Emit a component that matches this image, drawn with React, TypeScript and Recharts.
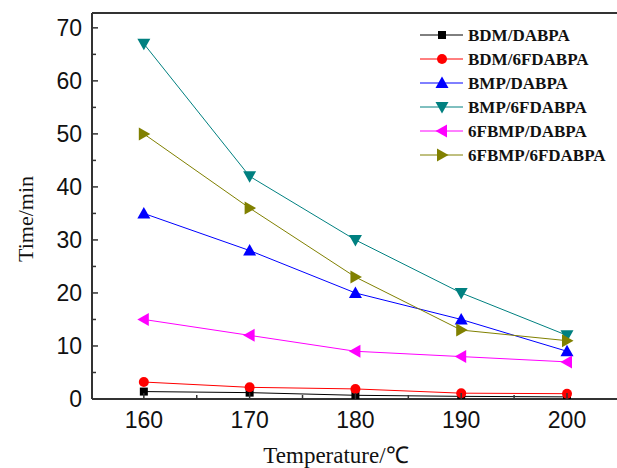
import { LineChart, Line, XAxis, YAxis, ReferenceLine, Legend } from 'recharts'

// temperature (°C) and gel time (min)
const temps = [160, 170, 180, 190, 200]
const bdmDabpa = [1.4, 1.2, 0.7, 0.5, 0.4]
const bdm6fdabpa = [3.2, 2.2, 1.9, 1.1, 1.0]
const bmpDabpa = [35, 28, 20, 15, 9]
const bmp6fdabpa = [67, 42, 30, 20, 12]
const fbmpDabpa = [15, 12, 9, 8, 7]
const fbmp6fdabpa = [50, 36, 23, 13, 11]

const xTicks = [160, 165, 170, 175, 180, 185, 190, 195, 200]
const yTicks = [0, 5, 10, 15, 20, 25, 30, 35, 40, 45, 50, 55, 60, 65, 70]

const X_MIN = 155.1
const X_MAX = 206.9
const Y_MAX = 72.8
const AXIS_X = 92
const AXIS_Y = 399
const AXIS_COLOR = '#333'
const NUM_FONT = '"Liberation Sans", Arial, sans-serif'
const SERIF = '"Liberation Serif", "Times New Roman", serif'

type Shape = 'square' | 'circle' | 'up' | 'down' | 'left' | 'right'

const series: { key: string; name: string; color: string; shape: Shape; values: number[] }[] = [
  { key: 'bdmDabpa', name: 'BDM/DABPA', color: '#000000', shape: 'square', values: bdmDabpa },
  { key: 'bdm6fdabpa', name: 'BDM/6FDABPA', color: '#ff0000', shape: 'circle', values: bdm6fdabpa },
  { key: 'bmpDabpa', name: 'BMP/DABPA', color: '#0000ff', shape: 'up', values: bmpDabpa },
  { key: 'bmp6fdabpa', name: 'BMP/6FDABPA', color: '#008080', shape: 'down', values: bmp6fdabpa },
  { key: 'fbmpDabpa', name: '6FBMP/DABPA', color: '#ff00ff', shape: 'left', values: fbmpDabpa },
  { key: 'fbmp6fdabpa', name: '6FBMP/6FDABPA', color: '#808000', shape: 'right', values: fbmp6fdabpa },
]

const data = temps.map((t, i) => {
  const row: Record<string, number> = { t }
  series.forEach((s) => { row[s.key] = s.values[i] })
  return row
})

function Marker({ shape, cx, cy, color }: { shape: Shape; cx: number; cy: number; color: string }) {
  if (cx == null || cy == null) return null
  switch (shape) {
    case 'square':
      return <rect x={cx - 4} y={cy - 4} width={8} height={8} fill={color} />
    case 'circle':
      return <circle cx={cx} cy={cy} r={5} fill={color} />
    case 'up':
      return <polygon points={`${cx},${cy - 6.5} ${cx - 6.5},${cy + 5} ${cx + 6.5},${cy + 5}`} fill={color} />
    case 'down':
      return <polygon points={`${cx},${cy + 6.5} ${cx - 6.5},${cy - 5} ${cx + 6.5},${cy - 5}`} fill={color} />
    case 'left':
      return <polygon points={`${cx - 6.5},${cy} ${cx + 5},${cy - 6.5} ${cx + 5},${cy + 6.5}`} fill={color} />
    default:
      return <polygon points={`${cx + 6.5},${cy} ${cx - 5},${cy - 6.5} ${cx - 5},${cy + 6.5}`} fill={color} />
  }
}

function XTick(props: any) {
  const { x, payload } = props
  const major = payload.value % 10 === 0
  return (
    <g>
      <line x1={x} x2={x} y1={AXIS_Y} y2={AXIS_Y - (major ? 6 : 4)} stroke={AXIS_COLOR} strokeWidth={1.5} />
      {major && (
        <text x={x} y={428} textAnchor="middle" fontSize={23} fontFamily={NUM_FONT} fill="#111">
          {payload.value}
        </text>
      )}
    </g>
  )
}

function YTick(props: any) {
  const { y, payload } = props
  const major = payload.value % 10 === 0
  return (
    <g>
      <line x1={AXIS_X} x2={AXIS_X + (major ? 6 : 4)} y1={y} y2={y} stroke={AXIS_COLOR} strokeWidth={1.5} />
      {major && (
        <text x={82} y={y} dy="0.36em" textAnchor="end" fontSize={23} fontFamily={NUM_FONT} fill="#111">
          {payload.value}
        </text>
      )}
    </g>
  )
}

// legend in the original series order, not the sorted payload order
function LegendBox() {
  return (
    <svg width={200} height={150}>
      {series.map((s, i) => {
        const cy = 12 + 24 * i
        return (
          <g key={s.key}>
            <line x1={5} x2={48} y1={cy} y2={cy} stroke={s.color} strokeWidth={1} />
            <Marker shape={s.shape} cx={27} cy={cy} color={s.color} />
            <text x={53} y={cy + 6} fontSize={17} fontWeight="bold" fontFamily={SERIF} fill="#111">
              {s.name}
            </text>
          </g>
        )
      })}
    </svg>
  )
}

export default function App() {
  return (
    <div style={{ position: 'absolute', left: 0, top: 0, width: 617, height: 468, overflow: 'hidden', background: '#fff' }}>
      <LineChart width={640} height={468} data={data} margin={{ top: 13, right: 0, bottom: 0, left: 0 }}>
        <XAxis
          dataKey="t"
          type="number"
          domain={[X_MIN, X_MAX]}
          ticks={xTicks}
          allowDataOverflow
          height={69}
          axisLine={{ stroke: AXIS_COLOR, strokeWidth: 2 }}
          tickLine={false}
          tick={XTick}
          interval={0}
          label={() => (
            <text x={336} y={463} textAnchor="middle" fontSize={23} fontFamily={SERIF} fill="#111">
              Temperature/℃
            </text>
          )}
        />
        <YAxis
          type="number"
          domain={[0, Y_MAX]}
          ticks={yTicks}
          allowDataOverflow
          width={AXIS_X}
          axisLine={{ stroke: AXIS_COLOR, strokeWidth: 2 }}
          tickLine={false}
          tick={YTick}
          interval={0}
          label={() => (
            <text
              x={25}
              y={219}
              transform="rotate(-90 25 219)"
              textAnchor="middle"
              dy="0.35em"
              fontSize={22}
              fontFamily={SERIF}
              fill="#111"
            >
              Time/min
            </text>
          )}
        />
        <ReferenceLine y={Y_MAX} stroke={AXIS_COLOR} strokeWidth={2} ifOverflow="visible" />
        <Legend
          layout="vertical"
          align="center"
          verticalAlign="middle"
          content={LegendBox}
          wrapperStyle={{ left: 415, top: 23, width: 200, height: 150 }}
        />
        {series.map((s) => (
          <Line
            key={s.key}
            dataKey={s.key}
            name={s.name}
            stroke={s.color}
            strokeWidth={1}
            isAnimationActive={false}
            dot={(p: any) => <Marker key={`${s.key}-${p.index}`} shape={s.shape} cx={p.cx} cy={p.cy} color={s.color} />}
            activeDot={false}
          />
        ))}
      </LineChart>
    </div>
  )
}
